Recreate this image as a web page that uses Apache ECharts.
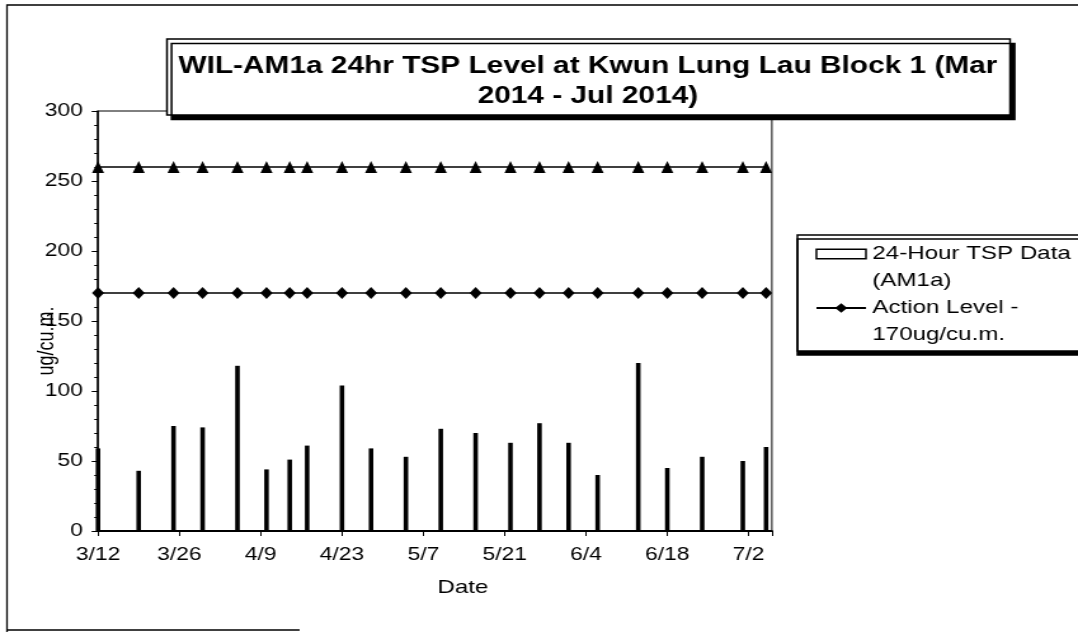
<!DOCTYPE html>
<html>
<head>
<meta charset="utf-8">
<script src="https://cdn.jsdelivr.net/npm/echarts@6/dist/echarts.min.js"></script>
<style>
html,body{margin:0;padding:0;background:#fff;overflow:hidden;}
#c{width:849px;height:633px;transform:scaleX(1.26973);transform-origin:0 0;}
</style>
</head>
<body>
<div id="c"></div>
<script>
// ---- data ----
const sampleDates = ['3/12','3/19','3/25','3/30','4/5','4/10','4/14','4/17','4/23','4/28','5/4',
                     '5/10','5/16','5/22','5/27','6/1','6/6','6/13','6/18','6/24','7/1','7/5'];
const tspValues   = [59, 43, 75, 74, 118, 44, 51, 61, 104, 59, 53,
                     73, 70, 63, 77, 63, 40, 120, 45, 53, 50, 60];
const actionLevel = [170,170,170,170,170,170,170,170,170,170,170,
                     170,170,170,170,170,170,170,170,170,170,170];
const limitLevel  = [260,260,260,260,260,260,260,260,260,260,260,
                     260,260,260,260,260,260,260,260,260,260,260];
const xTickLabels = ['3/12','3/26','4/9','4/23','5/7','5/21','6/4','6/18','7/2'];
const yTickLabels = ['0','50','100','150','200','250','300'];
const titleLines  = ['WIL-AM1a 24hr TSP Level at Kwun Lung Lau Block 1 (Mar', '2014 - Jul 2014)'];
const seriesNames = ['24-Hour TSP Data (AM1a)', 'Action Level - 170ug/cu.m.', 'Limit Level - 260ug/cu.m.'];
// a leading empty line keeps each legend icon level with the first text line
const legendLines = {'24-Hour TSP Data (AM1a)':'\n24-Hour TSP Data\n(AM1a)',
                     'Action Level - 170ug/cu.m.':'\nAction Level -\n170ug/cu.m.'};

// day offset from 12 March 2014
function dayOf(md){
  const p = md.split('/').map(Number);
  return (Date.UTC(2014, p[0]-1, p[1]) - Date.UTC(2014, 2, 12)) / 86400000;
}
const days = sampleDates.map(dayOf);
const pair = arr => arr.map((v,i)=>[days[i], v]);

const FONT = "'Liberation Sans', Arial, sans-serif";
const chart = echarts.init(document.getElementById('c'));
chart.setOption({
  animation:false,
  textStyle:{fontFamily:FONT},
  grid:{left:77.2, right:241.1, top:111, bottom:102, show:true, borderColor:'#000', borderWidth:1, backgroundColor:'transparent'},
  xAxis:{
    type:'value', min:0, max:116, interval:14,
    name:'Date', nameLocation:'middle', nameGap:47, nameMoveOverlap:false,
    nameTextStyle:{color:'#000', fontSize:19, fontFamily:FONT, padding:[0,0,0,44]},
    axisLine:{show:true, lineStyle:{color:'#000', width:2}},
    axisTick:{show:true, length:5, lineStyle:{color:'#000'}},
    axisLabel:{color:'#000', fontSize:18, fontFamily:FONT, margin:15,
      formatter:v => (v % 14 === 0 && xTickLabels[v/14] !== undefined) ? xTickLabels[v/14] : ''},
    splitLine:{show:false}
  },
  yAxis:{
    type:'value', min:0, max:300, interval:50,
    name:'ug/cu.m.', nameLocation:'middle', nameGap:31, nameMoveOverlap:false,
    nameTextStyle:{color:'#000', fontSize:18, fontFamily:FONT, padding:[0,40,0,0]},
    axisLine:{show:true, lineStyle:{color:'#000', width:1.5}},
    axisTick:{show:true, length:5, lineStyle:{color:'#000'}},
    minorTick:{show:true, splitNumber:5, length:3, lineStyle:{color:'#000'}},
    axisLabel:{color:'#000', fontSize:18, fontFamily:FONT, margin:12,
      formatter:v => yTickLabels[v/50] !== undefined ? yTickLabels[v/50] : ''},
    splitLine:{show:false}
  },
  legend:{
    orient:'vertical', left:642, top:213.5, padding:0, itemGap:-27, z:20,
    itemWidth:39, itemHeight:12,
    textStyle:{color:'#000', fontSize:19, fontFamily:FONT, lineHeight:27},
    formatter:n => legendLines[n] || n,
    data:[
      {name:seriesNames[0], icon:'path://M0,0H50V12H0Z', itemStyle:{color:'#fff', borderColor:'#000', borderWidth:1.5}},
      {name:seriesNames[1]}
    ]
  },
  graphic:[
    {type:'polyline', z:50, silent:true,
     shape:{points:[[5.5,632],[5.5,5],[849,5]]}, style:{stroke:'#000', lineWidth:1.3, fill:null}},
    {type:'line', z:50, silent:true,
     shape:{x1:5.5,y1:630,x2:236,y2:630}, style:{stroke:'#000', lineWidth:1.3}},
    {type:'rect', z:60, silent:true,
     shape:{x:131.5, y:39, width:664, height:76},
     style:{fill:'#fff', stroke:'#000', lineWidth:1.5, shadowColor:'#000', shadowOffsetX:3.6, shadowOffsetY:4.5, shadowBlur:0}},
    {type:'text', z:61, silent:true, x:463, y:67,
     style:{text:titleLines[0], font:"bold 23.5px "+FONT, fill:'#000', align:'center', verticalAlign:'middle'}},
    {type:'text', z:61, silent:true, x:463, y:97,
     style:{text:titleLines[1], font:"bold 23.5px "+FONT, fill:'#000', align:'center', verticalAlign:'middle'}},
    {type:'rect', z:1, silent:true,
     shape:{x:628, y:235, width:400, height:116},
     style:{fill:'#fff', stroke:'#000', lineWidth:1.5, shadowColor:'#000', shadowOffsetX:0, shadowOffsetY:4, shadowBlur:0}}
  ],
  series:[
    {name:seriesNames[0], type:'bar', barWidth:3.6, data:pair(tspValues),
     itemStyle:{color:'#000'}, z:2},
    {name:seriesNames[1], type:'line', data:pair(actionLevel), symbol:'diamond', symbolSize:[9.5,12],
     lineStyle:{color:'#000', width:1.5}, itemStyle:{color:'#000'}, z:3},
    {name:seriesNames[2], type:'line', data:pair(limitLevel), symbol:'triangle', symbolSize:[9.5,12],
     lineStyle:{color:'#000', width:1.5}, itemStyle:{color:'#000'}, z:3}
  ]
});
</script>
</body>
</html>
